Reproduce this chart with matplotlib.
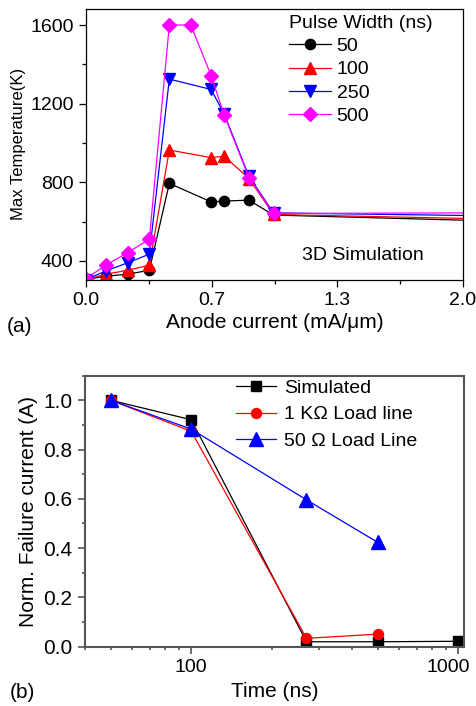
import matplotlib
matplotlib.use('Agg')
import matplotlib.pyplot as plt
from matplotlib.ticker import FixedLocator, MultipleLocator, LogLocator, NullFormatter
from matplotlib.transforms import ScaledTranslation

plt.rcParams['font.family'] = ['Liberation Sans', 'DejaVu Sans']

# (a) max temperature vs anode current
current = [0.0, 0.106, 0.221, 0.336, 0.442, 0.664, 0.733, 0.864, 0.995, 2.0]
current_500 = [0.0, 0.106, 0.221, 0.336, 0.442, 0.556, 0.664, 0.733, 0.864, 0.995, 2.0]
temp_50 = [305, 322, 332, 352, 794, 700, 704, 709, 633, 607]
temp_100 = [305, 332, 352, 378, 964, 925, 933, 819, 636, 616]
temp_250 = [305, 349, 390, 434, 1325, 1272, 1147, 831, 644, 631]
temp_500 = [310, 378, 442, 510, 1600, 1600, 1342, 1142, 824, 641, 644]
pulse_labels = ['50', '100', '250', '500']
xtick_vals = [0.0, 2 / 3, 4 / 3, 2.0]
xtick_labels = ['0.0', '0.7', '1.3', '2.0']

# (b) normalised failure current vs pulse time
time_sim = [50, 100, 270, 500, 1000]
fail_sim = [1.0, 0.921, 0.020, 0.020, 0.022]
time_1k = [50, 100, 270, 500]
fail_1k = [1.0, 0.874, 0.034, 0.051]
time_50 = [50, 100, 270, 500]
fail_50 = [1.0, 0.883, 0.596, 0.423]

fig = plt.figure(figsize=(4.76, 7.06), dpi=100)

# ---- top panel ----
ax1 = fig.add_axes([0.1807, 0.6041, 0.792, 0.3827])
n = len(current)
ax1.plot(current, temp_50, color='black', marker='o', ms=7.4, lw=0.9,
         markevery=list(range(n - 1)), label=pulse_labels[0])
ax1.plot(current, temp_100, color='#ff0000', marker='^', ms=8.6, lw=0.9,
         markevery=list(range(n - 1)), label=pulse_labels[1])
ax1.plot(current, temp_250, color='#0000ff', marker='v', ms=8.6, lw=0.9,
         markevery=list(range(n - 1)), label=pulse_labels[2])
ax1.plot(current_500, temp_500, color='#ff00ff', marker='D', ms=6.8, lw=0.9,
         markevery=list(range(len(current_500) - 1)), label=pulse_labels[3])

ax1.set_xlim(0, 2.0)
ax1.set_ylim(305, 1680)
ax1.xaxis.set_major_locator(FixedLocator(xtick_vals))
ax1.set_xticklabels(xtick_labels)
ax1.xaxis.set_minor_locator(MultipleLocator(1 / 3))
ax1.yaxis.set_major_locator(MultipleLocator(400))
ax1.yaxis.set_minor_locator(MultipleLocator(200))
ax1.tick_params(which='major', direction='out', length=5, width=0.9, labelsize=14, pad=4)
ax1.tick_params(which='minor', direction='out', length=3, width=0.9)
for s in ax1.spines.values():
    s.set_linewidth(0.9)
ax1.set_xlabel('Anode current (mA/\u03bcm)', fontsize=15, labelpad=3)
ax1.set_ylabel('Max Temperature(K)', fontsize=12, labelpad=3)
ax1.text(0.735, 0.09, '3D Simulation', transform=ax1.transAxes, fontsize=14,
         ha='center', va='center')
ax1.legend(loc='upper left', bbox_to_anchor=(0.607, 0.979), bbox_transform=fig.transFigure,
           frameon=False, fontsize=14, title='Pulse Width (ns)', title_fontsize=14,
           alignment='left', borderpad=0, handlelength=2.15, handletextpad=0.3,
           labelspacing=0.29, borderaxespad=0)
fig.text(0.015, 1 - 326 / 706, '(a)', fontsize=15, va='center', ha='left')

# ---- bottom panel ----
ax2 = fig.add_axes([0.1786, 0.0840, 0.7962, 0.3839])
ax2.plot(time_sim, fail_sim, color='black', marker='s', ms=6.7, lw=0.9, label='Simulated')
ax2.plot(time_1k, fail_1k, color='#ff0000', marker='o', ms=7.2, lw=0.9,
         label='1 K\u03a9 Load line')
ax2.plot(time_50, fail_50, color='#0000ff', marker='^', ms=9.6, lw=0.9,
         label='50 \u03a9 Load Line')
ax2.set_xscale('log')
ax2.set_xlim(40, 1050)
ax2.set_ylim(0, 1.1)
ax2.set_xticks([100, 1000])
ax2.set_xticklabels(['100', '1000'])
ax2.xaxis.set_minor_locator(LogLocator(base=10, subs=range(2, 10)))
ax2.xaxis.set_minor_formatter(NullFormatter())
ax2.yaxis.set_major_locator(MultipleLocator(0.2))
ax2.yaxis.set_minor_locator(MultipleLocator(0.1))
ax2.yaxis.set_major_formatter(plt.FuncFormatter(lambda v, p: f'{v:.1f}'))
ax2.tick_params(which='major', direction='out', length=5, width=1.2, color='#555555',
                labelsize=15, pad=4)
ax2.tick_params(axis='x', which='major', labelsize=14)
ax2.tick_params(which='minor', direction='out', length=2.5, width=1.2, color='#555555')
for s in ax2.spines.values():
    s.set_linewidth(1.5)
    s.set_color('#555555')
ax2.set_xlabel('Time (ns)', fontsize=15, labelpad=4)
ax2.set_ylabel('Norm. Failure current (A)', fontsize=15, labelpad=4)
ax2.legend(loc='upper left', bbox_to_anchor=(0.495, 1 - 379 / 706), bbox_transform=fig.transFigure,
           frameon=False, fontsize=14, borderpad=0, handlelength=2.1, handletextpad=0.4,
           labelspacing=0.47, borderaxespad=0)
fig.text(0.02, 1 - 693 / 706, '(b)', fontsize=15, va='center', ha='left')

# the reference nudges the last label inward so it is not cut at the edge
fig.canvas.draw()
last = ax2.get_xticklabels()[-1]
last.set_transform(last.get_transform() + ScaledTranslation(-10 / 100, 0, fig.dpi_scale_trans))

fig.savefig('out.png', dpi=100)
